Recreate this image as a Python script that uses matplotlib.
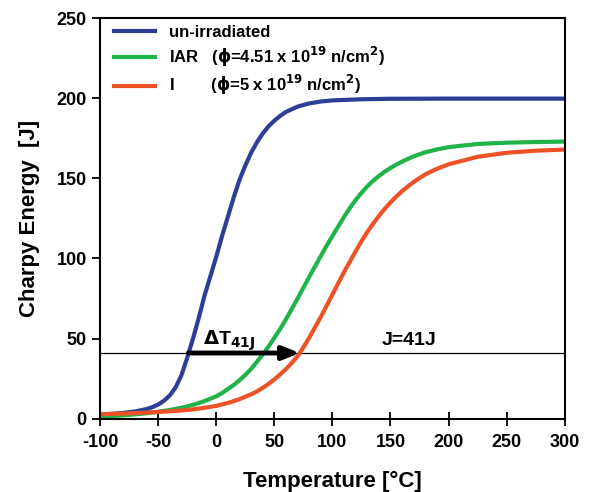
import matplotlib.pyplot as plt

plt.rcParams['font.family'] = ['Liberation Sans', 'DejaVu Sans']
plt.rcParams['font.weight'] = 'bold'
plt.rcParams['mathtext.default'] = 'bf'
plt.rcParams['axes.unicode_minus'] = False

# Charpy energy vs temperature
temp_unirr = [-100, -90, -80, -70, -60, -55, -50, -45, -40, -35, -30, -25, -20, -15, -10,
              -5, 0, 5, 10, 15, 20, 25, 30, 35, 40, 45, 50, 55, 60, 70, 80, 90, 100,
              125, 150, 200, 250, 300]
unirr = [2.5, 3, 3.6, 4.5, 6, 7.2, 8.8, 11.2, 14.5, 19.5, 27, 38, 50, 63, 77,
         89, 101, 114, 126, 138, 149, 158, 166, 172.5, 178, 182.5, 186, 189, 191.5,
         194.8, 196.8, 198, 198.7, 199.4, 199.7, 199.8, 199.8, 199.8]

temp_iar = [-100, -90, -80, -70, -60, -50, -40, -30, -20, -10, 0, 5, 10, 15, 20, 25,
            30, 35, 40, 45, 50, 55, 60, 65, 70, 75, 80, 85, 90, 95, 100, 105, 110,
            115, 120, 125, 130, 135, 140, 145, 150, 155, 160, 170, 180, 190, 200,
            225, 250, 275, 300]
iar = [1.2, 1.6, 2.1, 2.7, 3.4, 4.3, 5.4, 6.8, 8.6, 11, 14, 16, 18.5, 21, 24, 27.3,
       31, 35.5, 40, 45, 50.5, 56, 62, 68.5, 75, 81.7, 88.5, 95, 101.5, 108, 114, 120, 126,
       131.5, 136.5, 141, 145, 148.5, 151.5, 154.2, 156.5, 158.6, 160.5, 163.8, 166.3,
       168.1, 169.5, 171.5, 172.3, 172.7, 173]

temp_irr = [-100, -90, -80, -70, -60, -50, -40, -30, -20, -10, 0, 10, 20, 30, 35, 40,
            45, 50, 55, 60, 65, 70, 75, 80, 85, 90, 95, 100, 105, 110, 115, 120, 125,
            130, 135, 140, 145, 150, 155, 160, 165, 170, 175, 180, 185, 190, 200,
            225, 250, 275, 300]
irr = [2.8, 3, 3.2, 3.5, 3.8, 4.2, 4.6, 5.1, 5.8, 6.8, 8, 9.8, 12.2, 15.2, 17, 19.2,
       21.7, 24.5, 27.6, 31, 34.8, 39, 44.5, 50.5, 57, 63.5, 70.5, 77.5, 84.5, 91.5, 98,
       104.5, 110.7, 116.5, 121.7, 126.5, 131, 135, 138.7, 142, 145, 147.8, 150.2, 152.5,
       154.3, 156, 158.8, 163.5, 166, 167.3, 168]

t41_unirr = -24
t41_irr = 72
j_level = 41

fig = plt.figure(figsize=(5.92, 4.92), dpi=100)
ax = fig.add_axes([0.169, 0.149, 0.785, 0.814])

ax.plot(temp_unirr, unirr, color='#2e3d98', lw=3, label='un-irradiated')
ax.plot(temp_iar, iar, color='#1fb34a', lw=3,
        label=r'IAR   ($\phi$=4.51 x 10$^{19}$ n/cm$^{2}$)')
ax.plot(temp_irr, irr, color='#ec5226', lw=3,
        label=r'I        ($\phi$=5 x 10$^{19}$ n/cm$^{2}$)')

ax.axhline(j_level, color='black', lw=0.9, zorder=1)
ax.annotate('', xy=(t41_irr, j_level), xytext=(t41_unirr, j_level),
            arrowprops=dict(arrowstyle='-|>,head_length=1.0,head_width=0.4',
                            color='black', lw=3.5, shrinkA=0, shrinkB=0))
ax.text(-11, 46, r'$\Delta$T$_{41J}$', fontsize=14, fontweight='bold')
ax.text(166, 46, 'J=41J', fontsize=14, fontweight='bold', ha='center')

ax.set_xlim(-100, 300)
ax.set_ylim(0, 250)
ax.set_xticks(range(-100, 301, 50))
ax.set_yticks(range(0, 251, 50))
ax.tick_params(axis='x', direction='inout', length=10, width=1.3, labelsize=13, pad=6)
ax.tick_params(axis='y', direction='out', length=6, width=1.3, labelsize=13)
for lab in ax.get_xticklabels() + ax.get_yticklabels():
    lab.set_fontweight('bold')
for sp in ax.spines.values():
    sp.set_linewidth(1.5)

ax.set_xlabel('Temperature [°C]', fontsize=16, fontweight='bold', labelpad=14)
ax.set_ylabel('Charpy Energy  [J]', fontsize=16, fontweight='bold', labelpad=12)

leg = ax.legend(loc='upper left', frameon=False, handlelength=2.5, handletextpad=0.8,
                borderaxespad=0.0, labelspacing=0.28, bbox_to_anchor=(0.015, 1.0),
                prop={'weight': 'bold', 'size': 12})

fig.savefig('out.png', dpi=100)
